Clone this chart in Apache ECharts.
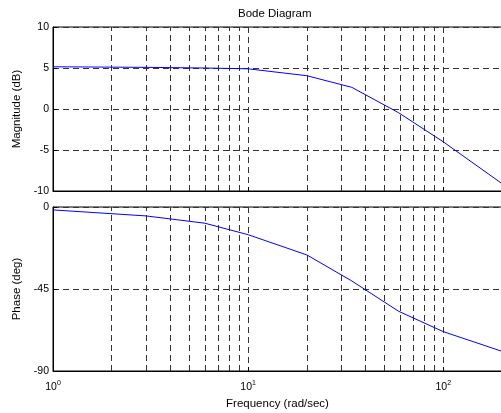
<!DOCTYPE html>
<html>
<head>
<meta charset="utf-8">
<script src="https://cdn.jsdelivr.net/npm/echarts@6/dist/echarts.min.js"></script>
<style>html,body{margin:0;padding:0;background:#fff}#c{width:501px;height:413px}</style>
</head>
<body>
<div id="c"></div>
<script>
// Data
var freq = [1, 3, 6, 10, 20, 34, 59, 100, 200];
var magnitude = [5.15, 5.08, 5.0, 4.9, 4.06, 2.64, -0.45, -4.0, -9.1];
var phase = [-1.6, -4.9, -8.9, -15.2, -26.3, -40.6, -57.2, -68.4, -79.2];
var minorFreq = [2, 3, 4, 5, 6, 7, 8, 9, 20, 30, 40, 50, 60, 70, 80, 90];
var magTicks = [-10, -5, 0, 5, 10];
var phaseTicks = [-90, -45, 0];

var FONT = 'Liberation Sans';
var dash = [6, 4];
var gridColor = '#333';

function pairs(xs, ys) { return xs.map(function (x, i) { return [x, ys[i]]; }); }
function vlines() {
  return {
    silent: true, symbol: ['none', 'none'], label: { show: false },
    lineStyle: { color: gridColor, type: dash, width: 1 },
    animation: false,
    data: minorFreq.map(function (f) { return { xAxis: f }; })
  };
}
function xLabel(v) {
  var e = Math.log10(v);
  if (Math.abs(e - Math.round(e)) > 1e-6) return '';
  return '{b|10}{s|' + Math.round(e) + '}';
}
function xAxisCfg(idx, showLabels) {
  return {
    type: 'log', logBase: 10, gridIndex: idx, min: 1, max: 200,
    axisLine: { show: true, onZero: false, lineStyle: { color: '#000', width: 1 } },
    axisTick: { show: true, inside: true, length: 4, lineStyle: { color: '#000' } },
    splitLine: { show: true, lineStyle: { color: gridColor, type: dash, width: 1 } },
    axisLabel: showLabels ? {
      show: true, margin: 9, formatter: xLabel, color: '#000',
      rich: { b: { fontFamily: FONT, fontSize: 10.5, color: '#000' },
              s: { fontFamily: FONT, fontSize: 7, color: '#000', padding: [0, 0, 8, 0] } }
    } : { show: false },
    name: showLabels ? 'Frequency (rad/sec)' : '',
    nameLocation: 'middle', nameGap: 27,
    nameTextStyle: { fontFamily: FONT, fontSize: 11.5, color: '#000' }
  };
}
function yAxisCfg(idx, min, max, interval, name) {
  return {
    type: 'value', gridIndex: idx, min: min, max: max, interval: interval,
    axisLine: { show: true, onZero: false, lineStyle: { color: '#000', width: 1 } },
    axisTick: { show: true, inside: true, length: 4, lineStyle: { color: '#000' } },
    splitLine: { show: true, lineStyle: { color: gridColor, type: dash, width: 1 } },
    axisLabel: { fontFamily: FONT, fontSize: 10.5, color: '#000', margin: 4 },
    name: name, nameLocation: 'middle', nameGap: 29,
    nameTextStyle: { fontFamily: FONT, fontSize: 11.5, color: '#000' }
  };
}

var chart = echarts.init(document.getElementById('c'), null, { renderer: 'canvas' });
chart.setOption({
  animation: false,
  backgroundColor: '#fff',
  title: { text: 'Bode Diagram', left: 238, top: 8, padding: 0,
           textStyle: { fontFamily: FONT, fontSize: 11.5, fontWeight: 'normal', color: '#000' } },
  grid: [
    { left: 53, right: -1, top: 27, height: 164, show: true, borderColor: '#000', borderWidth: 1,
      containLabel: false, outerBoundsMode: 'none' },
    { left: 53, right: -1, top: 207, height: 164, show: true, borderColor: '#000', borderWidth: 1,
      containLabel: false, outerBoundsMode: 'none' }
  ],
  xAxis: [xAxisCfg(0, false), xAxisCfg(1, true)],
  yAxis: [yAxisCfg(0, magTicks[0], magTicks[magTicks.length - 1], 5, 'Magnitude (dB)'),
          yAxisCfg(1, phaseTicks[0], phaseTicks[phaseTicks.length - 1], 45, 'Phase (deg)')],
  series: [
    { type: 'line', xAxisIndex: 0, yAxisIndex: 0, data: pairs(freq, magnitude),
      showSymbol: false, lineStyle: { color: '#0000ff', width: 1 }, markLine: vlines(), z: 5 },
    { type: 'line', xAxisIndex: 1, yAxisIndex: 1, data: pairs(freq, phase),
      showSymbol: false, lineStyle: { color: '#0000ff', width: 1 }, markLine: vlines(), z: 5 }
  ]
});
</script>
</body>
</html>
